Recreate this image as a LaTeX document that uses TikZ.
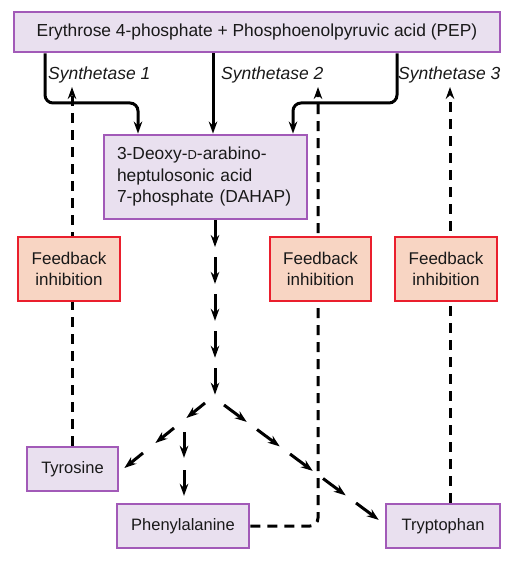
\documentclass[tikz,border=0pt]{standalone}
\usepackage{fontspec}
\setmainfont{Liberation Sans}
\usetikzlibrary{arrows.meta,calc}
\definecolor{lilacline}{HTML}{A25AB8}
\definecolor{lilacfill}{HTML}{E9E0EF}
\definecolor{inhibline}{HTML}{EA1F2D}
\definecolor{inhibfill}{HTML}{F8D5C3}
\newcommand\brokenarrow[4]{\foreach \k in {1,...,#3}
  \draw[route] ($(#1)!{(\k-1)/#3}!(#2)$) -- ($(#1)!{(\k-1+#4)/#3}!(#2)$);}

\begin{document}
\begin{tikzpicture}[x=1pt,y=-1pt,
    compound/.style={draw=lilacline,fill=lilacfill,line width=2.8pt,minimum height=44pt,text=black!90,font=\fontsize{16.5}{21}\selectfont},
    feedback/.style={draw=inhibline,fill=inhibfill,line width=2.8pt,minimum width=102pt,minimum height=64pt,align=center,text=black!90,font=\fontsize{17}{21}\selectfont},
    enzyme/.style={anchor=base west,inner sep=0pt,font=\fontsize{17.5}{20}\selectfont\itshape,text=black!90},
    route/.style={line width=3pt,-{Stealth[length=12pt,width=8.5pt]}},
    inhibit/.style={route,dash pattern=on 10pt off 7pt}]
  \useasboundingbox (0,0) rectangle (511,569);
  \node [compound,minimum width=486pt,minimum height=40pt,font=\fontsize{17.4}{21}\selectfont] (top) at (257,32) {Erythrose 4-phosphate + Phosphoenolpyruvic acid (PEP)};
  \node [compound,minimum width=203pt,minimum height=84pt,text width=177pt,align=left,font=\fontsize{17.4}{21.5}\selectfont] (dahap) at (205.5,177)
    {3-Deoxy-{\fontsize{13}{12}\selectfont D}-arabino-\\heptulosonic acid\\7-phosphate (DAHAP)};
  \node [enzyme] (syn1) at (48,80) {Synthetase 1};
  \node [enzyme] (syn2) at (221,80) {Synthetase 2};
  \node [enzyme] (syn3) at (398,80) {Synthetase 3};
  \node [compound,minimum width=91pt] (tyr) at (72.5,469) {Tyrosine};
  \node [compound,minimum width=132pt] (phe) at (183,526) {Phenylalanine};
  \node [compound,minimum width=114pt] (trp) at (443,526) {Tryptophan};

  \coordinate (b1) at (45,103); \coordinate (b3) at (397,103);
  \coordinate (e1) at (138,103); \coordinate (e2) at (213,103); \coordinate (e3) at (293,103);
  \coordinate (i1) at (72,87); \coordinate (i2) at (318,87); \coordinate (i3) at (450,87);
  \coordinate (v1) at (215,405);
  \coordinate (l0) at (205,403); \coordinate (l1) at (112,478);
  \coordinate (p0) at (184,432); \coordinate (p1) at (184,508);
  \coordinate (r0) at (224,405); \coordinate (r1) at (389,527.5);

  \draw [route,rounded corners=8pt] (top.south -| b1) |- (e1) -- (dahap.north -| e1);
  \draw [route] (top.south -| e2) -- (dahap.north -| e2);
  \draw [route,rounded corners=8pt] (top.south -| b3) |- (e3) -- (dahap.north -| e3);

  \draw [inhibit] (tyr.north -| i1) -- (i1);
  \draw [inhibit,rounded corners=8pt] (phe.east) -| (i2);
  \draw [inhibit] (trp.north -| i3) -- (i3);

  \brokenarrow{dahap.south -| v1}{v1}{5}{0.72}
  \brokenarrow{l0}{l1}{3}{0.6}
  \brokenarrow{p0}{p1}{2}{0.68}
  \brokenarrow{r0}{r1}{5}{0.69}

  \node [feedback] (fb1) at (69,269) {Feedback\\inhibition};
  \node [feedback,minimum width=101pt] (fb2) at (320.5,269) {Feedback\\inhibition};
  \node [feedback] (fb3) at (446,269) {Feedback\\inhibition};
\end{tikzpicture}
\end{document}
